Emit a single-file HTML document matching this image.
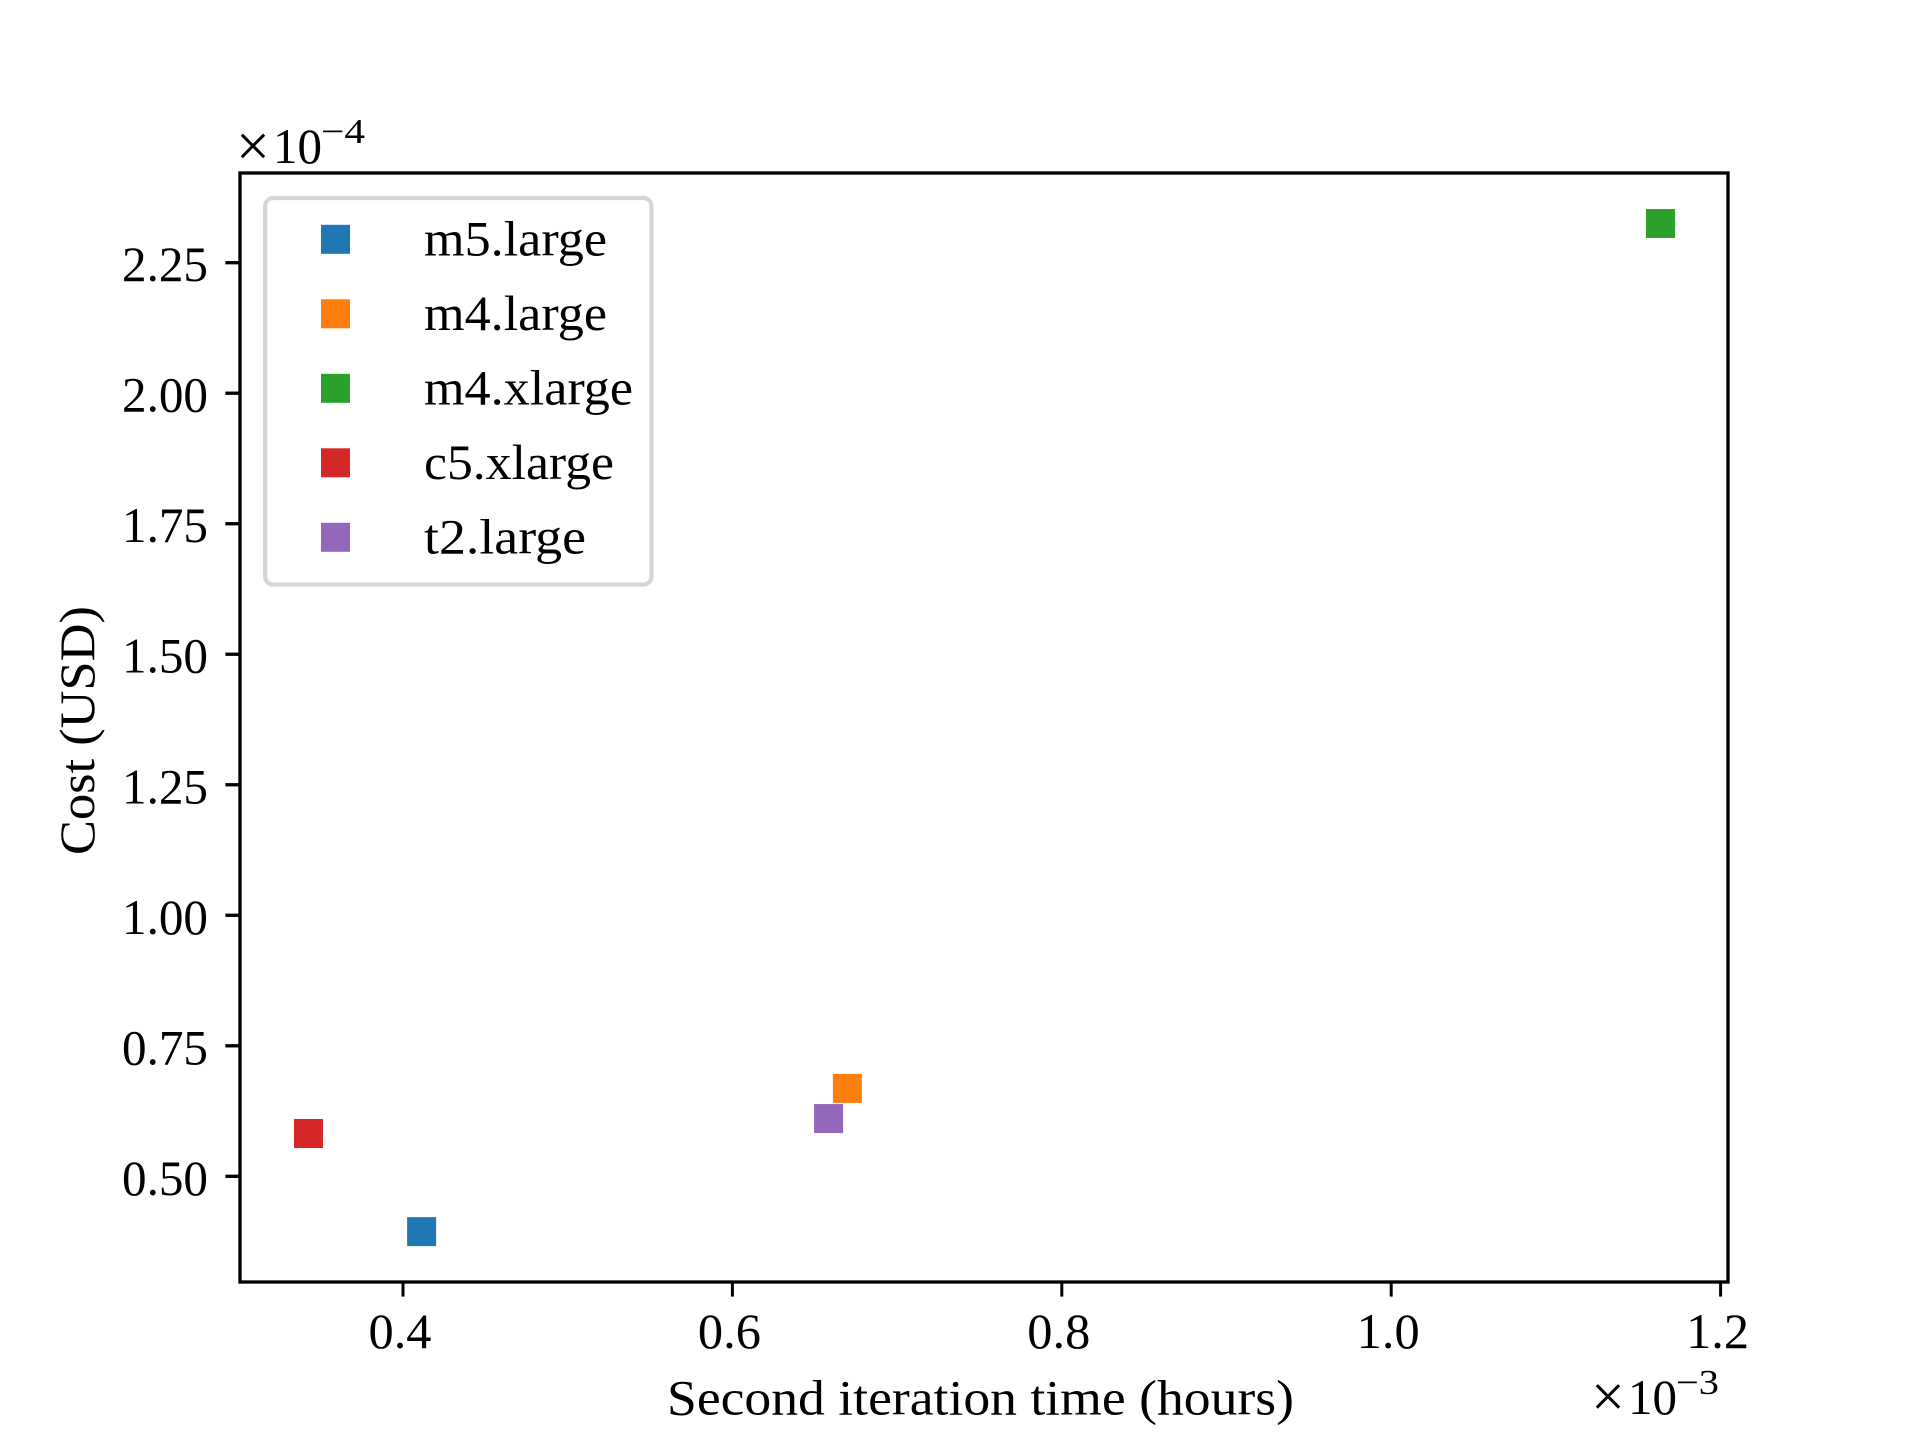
<!DOCTYPE html>
<html lang="en">
<head>
<meta charset="utf-8">
<title>Cost vs second iteration time</title>
<style>
html,body{margin:0;padding:0;background:#fff;width:1920px;height:1440px;overflow:hidden}
svg{display:block}
text{font-family:"Liberation Serif",serif;fill:#000;font-size:50px}
</style>
</head>
<body>
<svg id="chart" xmlns="http://www.w3.org/2000/svg" width="1920" height="1440" viewBox="0 0 1920 1440">
  <rect x="0" y="0" width="1920" height="1440" fill="#fff"/>
  <g id="marks"></g>
  <rect x="240" y="173" width="1488" height="1109" fill="none" stroke="#000" stroke-width="3.33"/>
  <g id="xticks"></g>
  <g id="yticks"></g>
  <text x="667" y="1414.5" textLength="627" lengthAdjust="spacingAndGlyphs">Second iteration time (hours)</text>
  <text transform="translate(94 855) rotate(-90)" x="0" y="0" textLength="249" lengthAdjust="spacingAndGlyphs">Cost (USD)</text>
  <g>
    <text x="236" y="166" style="font-size:60px">×</text>
    <text x="273" y="163" textLength="49" lengthAdjust="spacingAndGlyphs">10</text>
    <text x="321" y="143" style="font-size:35px" textLength="44" lengthAdjust="spacingAndGlyphs">−4</text>
  </g>
  <g>
    <text x="1591" y="1416.5" style="font-size:60px">×</text>
    <text x="1628" y="1414" textLength="49" lengthAdjust="spacingAndGlyphs">10</text>
    <text x="1676" y="1394" style="font-size:35px" textLength="43" lengthAdjust="spacingAndGlyphs">−3</text>
  </g>
  <g id="legend">
    <rect x="265.2" y="198" width="386.2" height="386.6" rx="8" ry="8" fill="#fff" stroke="#d6d6d6" stroke-width="4.17"/>
  </g>
</svg>
<script>
const seriesNames = ["m5.large", "m4.large", "m4.xlarge", "c5.xlarge", "t2.large"];
const seriesColors = ["#1f77b4", "#ff7f0e", "#2ca02c", "#d62728", "#9467bd"];
const timeValues = [0.4113, 0.6698, 1.1635, 0.3426, 0.6584];
const costValues = [0.394, 0.6684, 2.325, 0.582, 0.6106];
const xTickValues = [0.4, 0.6, 0.8, 1.0, 1.2];
const xTickLabels = ["0.4", "0.6", "0.8", "1.0", "1.2"];
const yTickValues = [0.5, 0.75, 1.0, 1.25, 1.5, 1.75, 2.0, 2.25];
const yTickLabels = ["0.50", "0.75", "1.00", "1.25", "1.50", "1.75", "2.00", "2.25"];

const NS = "http://www.w3.org/2000/svg";
const xScale = function (v) { return 403 + (v - 0.4) * 1647; };
const yScale = function (v) { return 262.7 + (2.25 - v) * 522.06; };
const MARKER = 29;
const TICK = 14.6;

function make(tag, attrs, parent) {
  const el = document.createElementNS(NS, tag);
  Object.keys(attrs).forEach(function (k) { el.setAttribute(k, attrs[k]); });
  parent.appendChild(el);
  return el;
}

const marksGroup = document.getElementById("marks");
timeValues.forEach(function (t, i) {
  const r = make("rect", {
    x: xScale(t) - MARKER / 2,
    y: yScale(costValues[i]) - MARKER / 2,
    width: MARKER,
    height: MARKER,
    fill: seriesColors[i]
  }, marksGroup);
  
  
});

const xTickGroup = document.getElementById("xticks");
xTickValues.forEach(function (v, i) {
  const x = xScale(v);
  const l = make("line", { x1: x, x2: x, y1: 1282, y2: 1282 + TICK, stroke: "#000", "stroke-width": 3 }, xTickGroup);
  
  
  const t = make("text", { x: x - 3, y: 1348, "text-anchor": "middle", textLength: 63, lengthAdjust: "spacingAndGlyphs" }, xTickGroup);
  
  
  t.textContent = xTickLabels[i];
});

const yTickGroup = document.getElementById("yticks");
yTickValues.forEach(function (v, i) {
  const y = yScale(v);
  const l = make("line", { x1: 240 - TICK, x2: 240, y1: y, y2: y, stroke: "#000", "stroke-width": 3.33 }, yTickGroup);
  
  
  const t = make("text", { x: 208, y: y + 18.5, "text-anchor": "end", textLength: 86, lengthAdjust: "spacingAndGlyphs" }, yTickGroup);
  
  
  t.textContent = yTickLabels[i];
});

const legendGroup = document.getElementById("legend");
const legendTextWidths = [183, 183, 209, 190, 162];
seriesNames.forEach(function (name, i) {
  const cy = 239.3 + i * 74.5;
  const swatch = make("rect", { x: 321, y: cy - MARKER / 2, width: MARKER, height: MARKER, fill: seriesColors[i] }, legendGroup);
  
  
  const label = make("text", { x: 424, y: cy + 16, textLength: legendTextWidths[i], lengthAdjust: "spacingAndGlyphs" }, legendGroup);
  
  
  label.textContent = name;
});
</script>
</body>
</html>
